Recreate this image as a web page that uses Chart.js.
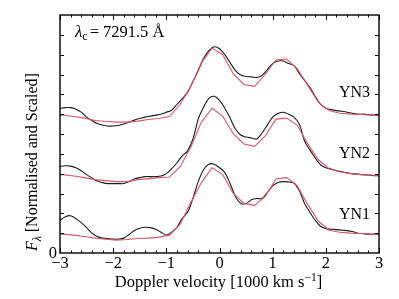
<!DOCTYPE html>
<html><head><meta charset="utf-8">
<script src="https://cdn.jsdelivr.net/npm/chart.js@4"></script>
<style>html,body{margin:0;padding:0;background:#fff}#c{display:block}</style>
</head><body>
<canvas id="c" width="399" height="299"></canvas>
<script>
// Observed spectra (black), velocity in 1000 km/s
const velObs = [-3.0,-2.9,-2.8,-2.7,-2.6,-2.5,-2.4,-2.3,-2.2,-2.1,
 -2.0,-1.9,-1.8,-1.7,-1.6,-1.5,-1.4,-1.3,-1.2,-1.1,
 -1.0,-0.9,-0.8,-0.7,-0.6,-0.5,-0.4,-0.3,-0.2,-0.1,
 0.0,0.1,0.2,0.3,0.4,0.5,0.6,0.7,0.8,0.9,
 1.0,1.1,1.2,1.3,1.4,1.5,1.6,1.7,1.8,1.9,
 2.0,2.1,2.2,2.3,2.4,2.5,2.6,2.7,2.8,2.9,3.0];
const yn3Obs = [7.30,7.33,7.33,7.25,7.10,6.85,6.68,6.53,6.45,6.40,
 6.40,6.43,6.50,6.60,6.70,6.78,6.85,6.90,6.95,7.00,
 7.10,7.20,7.50,7.78,8.10,8.65,9.20,9.80,10.20,10.40,
 10.30,10.00,9.60,9.20,8.98,8.90,8.88,8.85,8.95,9.25,
 9.55,9.68,9.68,9.55,9.45,9.05,8.70,8.35,7.90,7.50,
 7.30,7.23,7.18,7.15,7.10,7.05,7.00,7.00,6.98,6.95,6.95];
const yn2Obs = [4.35,4.40,4.38,4.30,4.15,3.95,3.78,3.63,3.55,3.50,
 3.50,3.50,3.50,3.60,3.73,3.80,3.85,3.85,3.85,3.88,
 4.00,4.25,4.55,4.90,5.15,5.75,6.75,7.35,7.80,7.90,
 7.70,7.30,6.80,6.25,5.95,5.85,5.80,5.75,6.05,6.45,
 6.85,7.03,7.10,7.00,6.85,6.50,5.65,5.20,4.80,4.45,
 4.30,4.23,4.15,4.10,4.05,4.00,3.98,3.95,3.93,3.90,3.90];
const yn1Obs = [1.65,1.83,1.88,1.73,1.53,1.28,1.00,0.83,0.75,0.73,
 0.70,0.70,0.75,0.93,1.13,1.25,1.30,1.28,1.20,1.05,
 0.90,1.05,1.30,1.75,2.05,2.75,3.60,4.20,4.48,4.48,
 4.30,4.05,3.50,2.85,2.50,2.50,2.68,2.75,2.75,3.05,
 3.38,3.55,3.60,3.58,3.53,3.15,2.50,2.05,1.65,1.35,
 1.23,1.20,1.18,1.15,1.13,1.08,1.00,0.98,0.95,0.95,0.95];

// Model spectra (red)
const velMod = [-3.0,-2.94,-2.74,-2.54,-2.34,-2.14,-1.94,-1.74,-1.54,-1.34,-1.14,-0.94,
 -0.74,-0.54,-0.34,-0.14,0.06,0.26,0.46,0.66,0.86,1.06,1.26,1.46,1.66,1.86,
 2.06,2.26,2.46,2.66,2.86,3.0];
const yn3Mod = [6.95,6.95,6.88,6.80,6.68,6.63,6.60,6.60,6.65,6.73,6.78,6.88,
 7.50,8.40,9.60,10.33,10.00,9.03,8.50,8.40,9.00,9.73,9.78,9.30,8.45,7.60,
 7.18,7.05,7.00,6.98,6.95,6.93];
const yn2Mod = [3.95,3.95,3.88,3.80,3.70,3.65,3.60,3.60,3.70,3.75,3.80,3.83,
 4.35,5.35,6.60,7.30,6.90,6.00,5.50,5.38,5.90,6.75,6.80,6.45,5.50,4.70,
 4.25,4.10,4.00,3.95,3.93,3.90];
const yn1Mod = [0.95,0.95,0.90,0.83,0.75,0.70,0.65,0.68,0.73,0.75,0.80,0.90,
 1.45,2.55,3.55,4.30,3.95,3.00,2.50,2.40,2.85,3.73,3.80,3.40,2.45,1.60,
 1.15,1.05,1.00,0.98,0.95,0.95];

const xTickValues = [-3,-2,-1,0,1,2,3];
const xTickLabels = ['\u22123','\u22122','\u22121','0','1','2','3'];
const yTickLabels = ['0'];
const seriesNames = ['YN1','YN2','YN3'];

const BLACK = '#1c1c1c';
const RED = '#d6576c';
const SERIF = '"Liberation Serif", "DejaVu Serif", serif';

function pts(xs, ys){ return xs.map((x,i)=>({x:x, y:ys[i]})); }

const deco = {
  id:'deco',
  afterDraw(chart){
    const ctx = chart.ctx, a = chart.chartArea;
    const xs = chart.scales.x, ys = chart.scales.y;
    ctx.save();
    // ticks
    ctx.strokeStyle = '#000'; ctx.lineWidth = 1;
    ctx.beginPath();
    for (let i=0;i<=30;i++){
      const v = -3 + i*0.2;
      const px = Math.round(xs.getPixelForValue(v))+0.5;
      const major = (i%5===0);
      const L = major ? 5 : 2.5;
      ctx.moveTo(px, a.bottom); ctx.lineTo(px, a.bottom-L);
      ctx.moveTo(px, a.top); ctx.lineTo(px, a.top+L);
    }
    for (let v=1; v<12; v++){
      const py = Math.round(ys.getPixelForValue(v))+0.5;
      ctx.moveTo(a.left, py); ctx.lineTo(a.left+4, py);
      ctx.moveTo(a.right, py); ctx.lineTo(a.right-4, py);
    }
    ctx.stroke();
    // frame
    ctx.lineWidth = 1.4;
    ctx.strokeRect(a.left, a.top, a.right-a.left, a.bottom-a.top);

    ctx.fillStyle = '#000';
    ctx.font = '16.5px ' + SERIF;
    ctx.textBaseline = 'alphabetic';
    ctx.textAlign = 'center';
    xTickValues.forEach((v,i)=>{
      ctx.fillText(xTickLabels[i], xs.getPixelForValue(v), a.bottom+15);
    });
    ctx.textAlign = 'right';
    ctx.fillText(yTickLabels[0], a.left-3, ys.getPixelForValue(0)+5);

    // series labels
    ctx.font = '16px ' + SERIF;
    ctx.textAlign = 'right';
    const baseY = [219, 158, 97];
    seriesNames.forEach((n,i)=>{ ctx.fillText(n, 370, baseY[i]); });

    // x axis title with superscript
    ctx.textAlign = 'left';
    const t1 = 'Doppler velocity [1000 km s', sup = '\u22121', t3 = ']';
    ctx.font = '16.5px ' + SERIF; const w1 = ctx.measureText(t1).width, w3 = ctx.measureText(t3).width;
    ctx.font = '11.5px ' + SERIF; const w2 = ctx.measureText(sup).width;
    let x0 = 218.5 - (w1+w2+w3)/2;
    const by = 287;
    ctx.font = '16.5px ' + SERIF; ctx.fillText(t1, x0, by);
    ctx.font = '11.5px ' + SERIF; ctx.fillText(sup, x0+w1, by-6.5);
    ctx.font = '16.5px ' + SERIF; ctx.fillText(t3, x0+w1+w2, by);

    // lambda_c annotation
    let lx = 75; const lby = 37;
    ctx.font = 'italic 17px ' + SERIF; ctx.fillText('\u03bb', lx, lby); lx += ctx.measureText('\u03bb').width;
    ctx.font = '12px ' + SERIF; ctx.fillText('c', lx, lby+3); lx += ctx.measureText('c').width + 2;
    ctx.font = '16.5px ' + SERIF;
    ctx.fillText('=', lx, lby); lx += ctx.measureText('=').width + 4;
    ctx.fillText('7291.5 \u00c5', lx, lby);

    // y axis title rotated
    ctx.save();
    ctx.translate(37, 251);
    ctx.rotate(-Math.PI/2);
    let yx = 0;
    ctx.font = 'italic 16px ' + SERIF; ctx.fillText('F', yx, 0); yx += ctx.measureText('F').width;
    ctx.font = 'italic 11.5px ' + SERIF; ctx.fillText('\u03bb', yx, 3.5); yx += ctx.measureText('\u03bb').width;
    ctx.font = '16px ' + SERIF; ctx.fillText(' [Normalised and Scaled]', yx, 0);
    ctx.restore();

    ctx.restore();
  }
};

const lineBase = {pointRadius:0, borderWidth:1.1, fill:false};
new Chart(document.getElementById('c'), {
  type:'line',
  data:{datasets:[
    Object.assign({label:'YN1 model', data:pts(velMod, yn1Mod), borderColor:RED, tension:0, order:0}, lineBase),
    Object.assign({label:'YN2 model', data:pts(velMod, yn2Mod), borderColor:RED, tension:0, order:0}, lineBase),
    Object.assign({label:'YN3 model', data:pts(velMod, yn3Mod), borderColor:RED, tension:0, order:0}, lineBase),
    Object.assign({label:'YN1', data:pts(velObs, yn1Obs), borderColor:BLACK, tension:0.35, order:1}, lineBase),
    Object.assign({label:'YN2', data:pts(velObs, yn2Obs), borderColor:BLACK, tension:0.35, order:1}, lineBase),
    Object.assign({label:'YN3', data:pts(velObs, yn3Obs), borderColor:BLACK, tension:0.35, order:1}, lineBase)
  ]},
  options:{
    responsive:false, devicePixelRatio:1, animation:false,
    layout:{padding:{left:60, right:20, top:15, bottom:46}},
    plugins:{legend:{display:false}, tooltip:{enabled:false}},
    scales:{
      x:{type:'linear', min:-3, max:3, display:false},
      y:{type:'linear', min:0, max:12, display:false}
    }
  },
  plugins:[deco]
});
</script>
</body></html>
